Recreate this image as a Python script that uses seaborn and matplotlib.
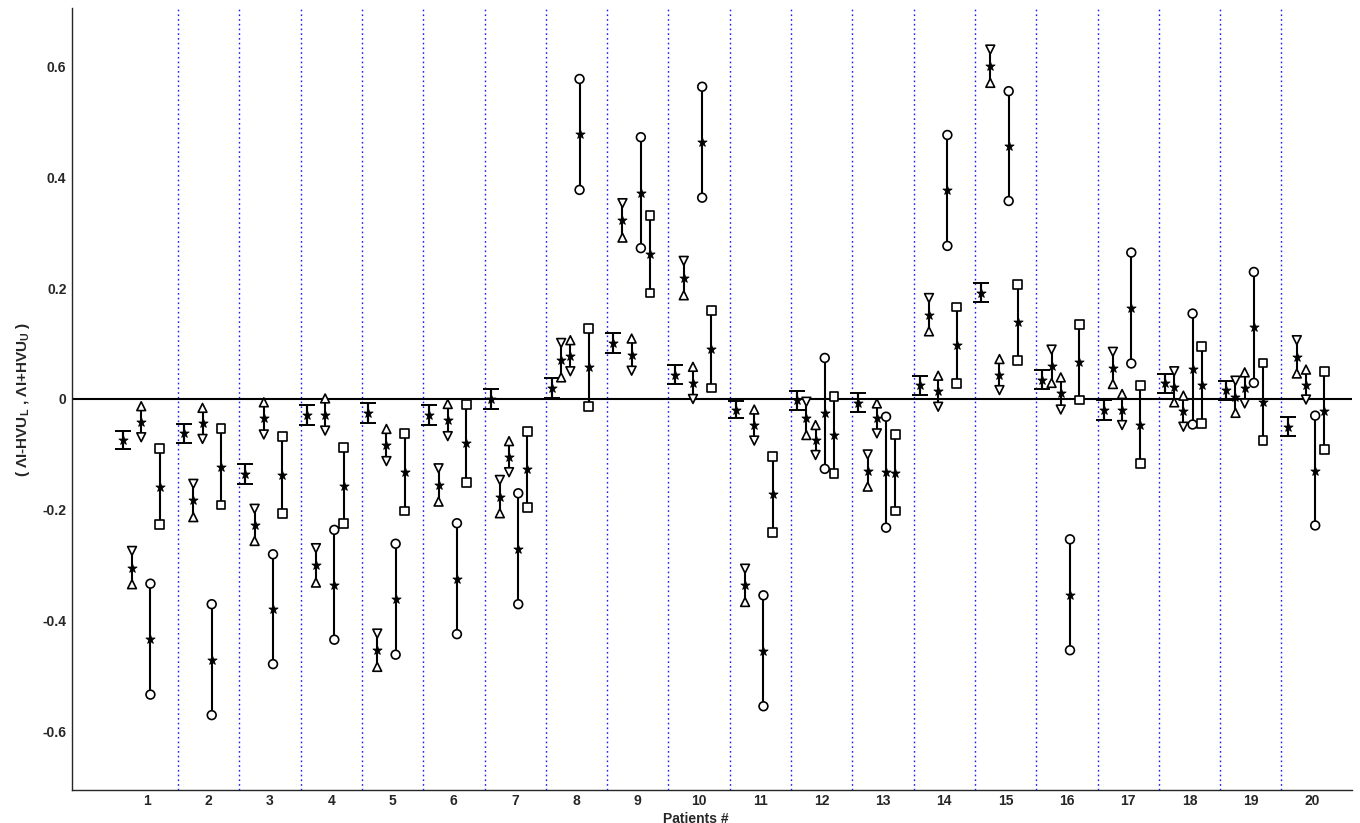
import numpy as np
import pandas as pd
import matplotlib
matplotlib.use('Agg')
import matplotlib.pyplot as plt
import seaborn as sns

patients = list(range(1, 21))

# five estimates per patient: centre value and half width of the interval
ibar_mid = [-0.074, -0.062, -0.136, -0.029, -0.025, -0.028, 0.000, 0.019, 0.101, 0.044,
            -0.019, -0.002, -0.007, 0.025, 0.192, 0.035, -0.020, 0.028, 0.016, -0.050]
ibar_half = [0.017, 0.017, 0.018, 0.018, 0.018, 0.018, 0.018, 0.018, 0.018, 0.017,
             0.016, 0.017, 0.017, 0.017, 0.017, 0.017, 0.018, 0.017, 0.017, 0.017]

hour_mid = [-0.304, -0.183, -0.227, -0.300, -0.453, -0.155, -0.176, 0.070, 0.322, 0.218,
            -0.336, -0.035, -0.129, 0.152, 0.600, 0.059, 0.056, 0.022, 0.004, 0.076]
hour_half = [0.030, 0.030, 0.029, 0.031, 0.030, 0.030, 0.030, 0.031, 0.031, 0.031,
             0.030, 0.030, 0.029, 0.030, 0.030, 0.030, 0.029, 0.028, 0.029, 0.030]

arrow_mid = [-0.041, -0.044, -0.035, -0.028, -0.083, -0.038, -0.104, 0.078, 0.080, 0.029,
             -0.047, -0.074, -0.035, 0.014, 0.044, 0.010, -0.019, -0.022, 0.020, 0.026]
arrow_half = [0.028, 0.028, 0.029, 0.029, 0.029, 0.029, 0.028, 0.028, 0.029, 0.029,
              0.028, 0.027, 0.027, 0.028, 0.028, 0.029, 0.028, 0.028, 0.028, 0.027]

circ_mid = [-0.433, -0.470, -0.379, -0.335, -0.361, -0.324, -0.270, 0.477, 0.372, 0.463,
            -0.454, -0.026, -0.132, 0.376, 0.456, -0.353, 0.164, 0.054, 0.129, -0.129]
circ_half = [0.100, 0.100, 0.099, 0.099, 0.100, 0.100, 0.100, 0.100, 0.100, 0.100,
             0.100, 0.100, 0.100, 0.100, 0.099, 0.100, 0.100, 0.100, 0.100, 0.099]

sq_mid = [-0.158, -0.122, -0.137, -0.156, -0.132, -0.080, -0.127, 0.057, 0.261, 0.090,
          -0.172, -0.065, -0.133, 0.097, 0.138, 0.066, -0.046, 0.025, -0.005, -0.021]
sq_half = [0.069, 0.069, 0.069, 0.068, 0.070, 0.070, 0.068, 0.070, 0.070, 0.070,
           0.069, 0.070, 0.069, 0.069, 0.069, 0.068, 0.070, 0.069, 0.070, 0.070]

# (name, mids, halves, offset, upper marker, lower marker)
series = [
    ('ibar', ibar_mid, ibar_half, -0.40, None, None),
    ('hour', hour_mid, hour_half, -0.25, 'v', '^'),
    ('arrow', arrow_mid, arrow_half, -0.10, '^', 'v'),
    ('circ', circ_mid, circ_half, 0.05, 'o', 'o'),
    ('sq', sq_mid, sq_half, 0.20, 's', 's'),
]

rows = []
ends = []
for name, mid, half, off, up_m, lo_m in series:
    for p, m, h in zip(patients, mid, half):
        x = p + off
        rows.append({'series': name, 'x': x, 'mid': m, 'low': m - h, 'high': m + h})
        if up_m is not None:
            ends.append({'x': x, 'y': m + h, 'mk': up_m})
            ends.append({'x': x, 'y': m - h, 'mk': lo_m})
df = pd.DataFrame(rows)
df_ends = pd.DataFrame(ends)

sns.set_style('white')
plt.rcParams['font.family'] = ['Liberation Sans', 'DejaVu Sans']
plt.rcParams['mathtext.fontset'] = 'custom'
plt.rcParams['mathtext.bf'] = 'Liberation Sans:bold'

fig = plt.figure(figsize=(13.6, 8.23), dpi=100)
ax = fig.add_axes([0.0529, 0.0401, 0.9412, 0.9502])

# patient separators and zero line
for b in np.arange(1.5, 20, 1.0):
    ax.axvline(b, color='#1a1aff', lw=1.0, ls=(0, (1.2, 2.2)), zorder=1)
ax.axhline(0, color='black', lw=1.5, zorder=2)

# interval lines
ax.vlines(df['x'], df['low'], df['high'], color='black', lw=1.5, zorder=3)

# capped short intervals
ib = df[df['series'] == 'ibar']
ax.errorbar(ib['x'], ib['mid'], yerr=(ib['high'] - ib['low']) / 2, fmt='none',
            ecolor='black', elinewidth=1.5, capsize=5.5, capthick=1.4, zorder=3)

# end markers
sns.scatterplot(data=df_ends, x='x', y='y', style='mk',
                markers={'v': 'v', '^': '^', 'o': 'o', 's': 's'},
                color='white', edgecolor='black', linewidth=1.2, s=40,
                legend=False, ax=ax, zorder=4)

# centre estimates
sns.scatterplot(data=df, x='x', y='mid', marker='*', color='black', edgecolor='black',
                linewidth=0.6, s=48, legend=False, ax=ax, zorder=5)

ax.set_xlim(-0.23, 20.65)
ax.set_ylim(-0.705, 0.705)
ax.set_xticks(patients)
ax.set_xticklabels([str(p) for p in patients], fontweight='bold', fontsize=10)
yt = [-0.6, -0.4, -0.2, 0, 0.2, 0.4, 0.6]
ax.set_yticks(yt)
ax.set_yticklabels(['-0.6', '-0.4', '-0.2', '0', '0.2', '0.4', '0.6'],
                   fontweight='bold', fontsize=10)
ax.tick_params(direction='in', length=8, width=0.8, pad=4)
ax.tick_params(axis='x', pad=3)

sns.despine(ax=ax, top=True, right=True)
ax.spines['left'].set_linewidth(1.0)
ax.spines['bottom'].set_linewidth(1.0)

ax.set_xlabel('Patients #', fontweight='bold', fontsize=10)
ax.xaxis.set_label_coords(0.4875, -0.0275)
ax.set_ylabel(r'( ΛI-HVU$_\mathbf{L}$ , ΛI+HVU$_\mathbf{U}$ )',
              fontweight='bold', fontsize=11)
ax.yaxis.set_label_coords(-0.031, 0.5)

fig.savefig('out.png', dpi=100)
